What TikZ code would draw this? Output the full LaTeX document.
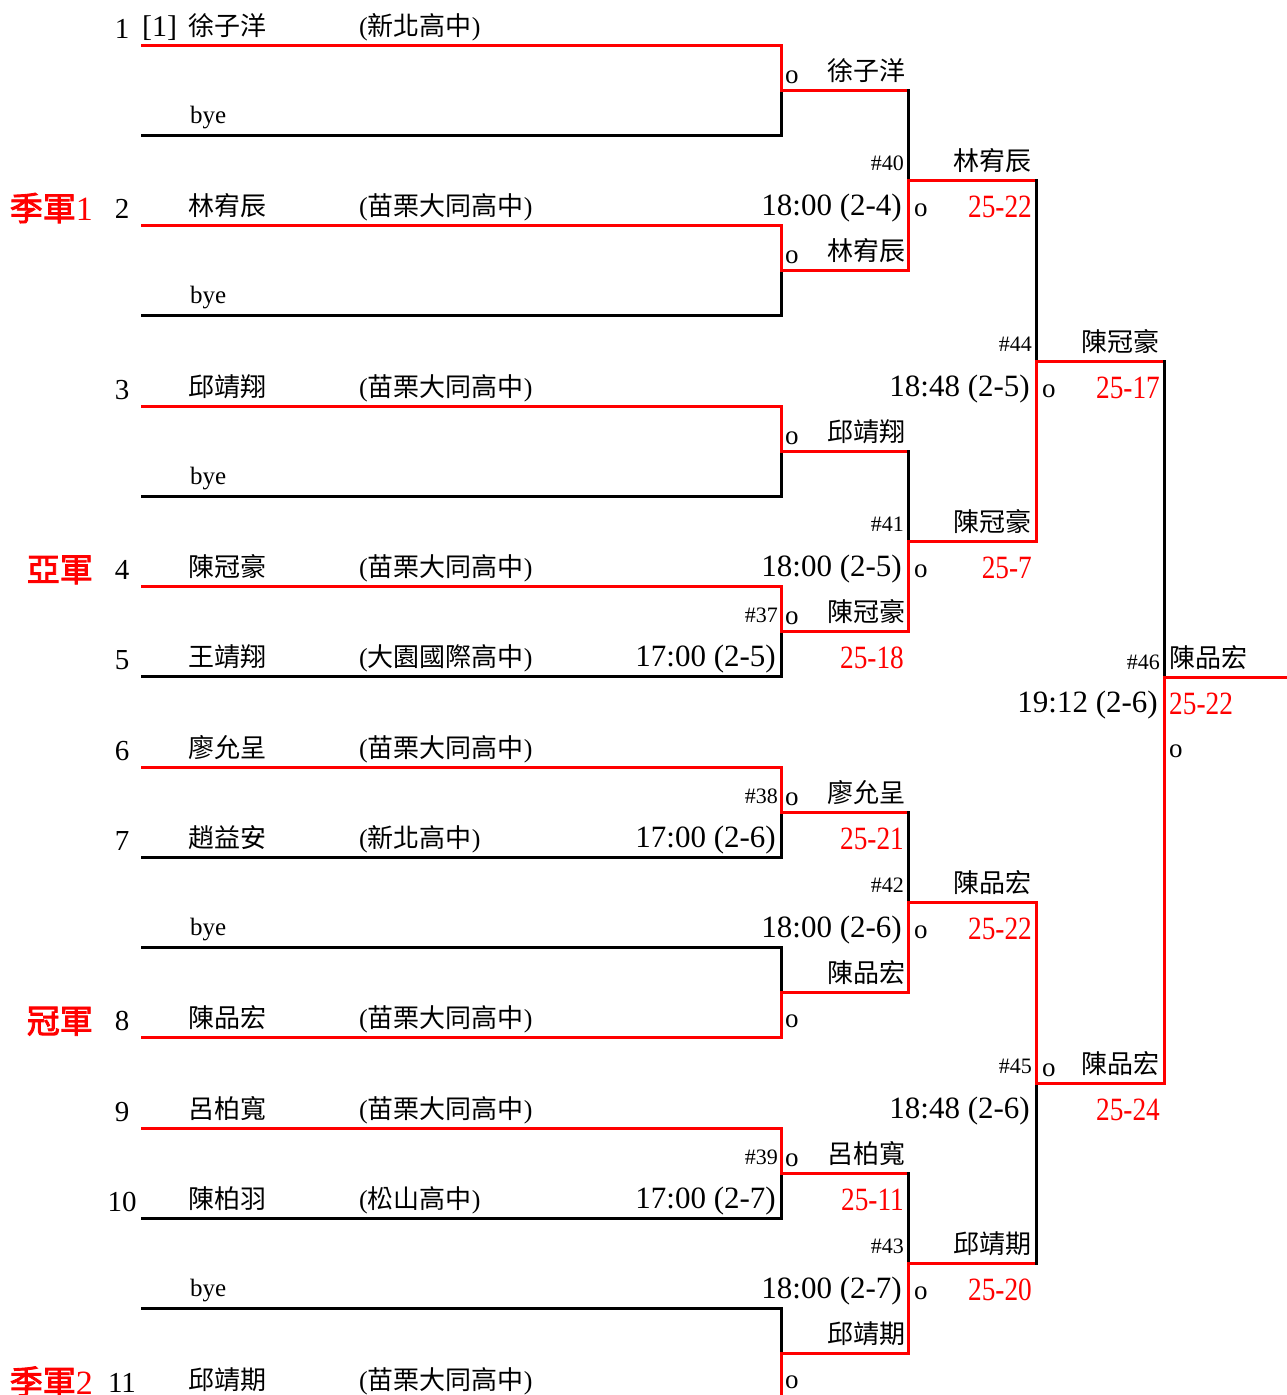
\documentclass[tikz,border=0pt]{standalone}
\usepackage{fontspec}
\setmainfont{Liberation Serif}
\newfontfamily\zhfont{Noto Sans CJK TC}
\newfontfamily\zhheavy{Noto Sans CJK TC}[FakeBold=2.5]
\newfontfamily\scorefont{Liberation Serif}[FakeStretch=0.84]
\newcommand{\zh}[1]{{\zhfont #1}}
\newcommand{\fsz}[1]{\fontsize{#1}{#1}\selectfont}
\usetikzlibrary{calc}
\definecolor{brkred}{RGB}{255,0,0}
\tikzset{
 brk line/.style={line width=3pt,line cap=rect},
 brk win/.style={brk line,brkred},
 brk lose/.style={brk line,black},
 brk seed/.style={font=\fsz{29},inner sep=0pt,anchor=base},
 brk who/.style={font=\zhfont\fsz{26},inner sep=0pt,anchor=base west},
 brk club/.style={font=\fsz{26},inner sep=0pt,anchor=base west},
 brk bye/.style={font=\fsz{25},inner sep=0pt,anchor=base west},
 brk winner/.style={font=\zhfont\fsz{26},inner sep=0pt,anchor=base east},
 brk no/.style={font=\fsz{22},inner sep=0pt,anchor=base east},
 brk time/.style={font=\fsz{31},inner sep=0pt,anchor=base east},
 brk score/.style={font=\scorefont\fsz{32.5},text=brkred,inner sep=0pt,anchor=base east},
 brk o/.style={font=\fsz{27},inner sep=0pt,anchor=base west},
 brk medal/.style={font=\fsz{34},text=brkred,inner sep=0pt,anchor=base east}
}

\begin{document}
\begin{tikzpicture}[x=1pt,y=-1pt]
 \useasboundingbox (0,0) rectangle (1287,1395);
 \clip (0,0) rectangle (1287,1395);
 % slots and match points
 \foreach \k in {1,...,16} \coordinate (p\k) at (142,{45+(\k-1)*90.27});
 \foreach \j in {1,...,8} \coordinate (m\j) at (781,{90.13+(\j-1)*180.54});
 \foreach \i in {1,...,4} \coordinate (q\i) at (908,{180.4+(\i-1)*361.08});
 \coordinate (t1) at (1036,361);
 \coordinate (t2) at (1036,1083.1);
 \coordinate (f) at (1164,677);
 \coordinate (champ) at (1287,677);

 % round 1
 \foreach \k/\col in {1/brkred,2/black,3/brkred,4/black,5/brkred,6/black,7/brkred,8/black,
   9/brkred,10/black,11/black,12/brkred,13/brkred,14/black,15/black,16/brkred}{
   \pgfmathtruncatemacro\j{(\k+1)/2}
   \draw[brk line,draw=\col] (p\k) -| (m\j);
 }
 % round 2
 \foreach \i in {1,...,4}{
   \pgfmathtruncatemacro\mup{2*\i-1}
   \pgfmathtruncatemacro\mdn{2*\i}
   \draw[brk win] (m\mup) -- (q\i |- m\mup);
   \draw[brk lose] (q\i |- m\mup) -- (q\i);
   \draw[brk win] (m\mdn) -| (q\i);
 }
 % semifinals and final
 \draw[brk win] (q1) -- (t1 |- q1);
 \draw[brk lose] (t1 |- q1) -- (t1);
 \draw[brk win] (q2) -| (t1);
 \draw[brk win] (q3) -| (t2);
 \draw[brk win] (q4) -- (t2 |- q4);
 \draw[brk lose] (t2 |- q4) -- (t2);
 \draw[brk win] (t1) -- (f |- t1);
 \draw[brk lose] (f |- t1) -- (f);
 \draw[brk win] (t2) -| (f) -- (champ);

 % entries
 \foreach \k/\s/\who/\club in {1/1/徐子洋/新北高中,3/2/林宥辰/苗栗大同高中,5/3/邱靖翔/苗栗大同高中,
   7/4/陳冠豪/苗栗大同高中,8/5/王靖翔/大園國際高中,9/6/廖允呈/苗栗大同高中,10/7/趙益安/新北高中,
   12/8/陳品宏/苗栗大同高中,13/9/呂柏寬/苗栗大同高中,14/10/陳柏羽/松山高中,16/11/邱靖期/苗栗大同高中}{
   \node[brk seed] (seed\s) at ($(p\k)+(-20,-7)$) {\s};
   \node[brk who] (who\s) at ($(p\k)+(46,-10)$) {\who};
   \node[brk club] (club\s) at ($(p\k)+(217,-10)$) {(\zh{\club})};
 }
 \node[brk club,font=\fsz{30}] (seedmark) at ($(p1)+(0,-9)$) {[1]};
 \foreach \k in {2,4,6,11,15} \node[brk bye] (bye\k) at ($(p\k)+(48,-12)$) {bye};
 \foreach \k/\medalname/\medalno in {3/季軍/1,7/亞軍/{},12/冠軍/{},16/季軍/2}
   \node[brk medal] (medal\k) at ($(p\k)+(-49,-5)$) {{\zhheavy\fsz{33}\medalname}\medalno};

 % round 1 labels
 \foreach \j/\who/\dy in {1/徐子洋/-7,2/林宥辰/-7,3/邱靖翔/-7,4/陳冠豪/-7,5/廖允呈/-7,
   6/陳品宏/35,7/呂柏寬/-7,8/邱靖期/35}{
   \node[brk winner] (win\j) at ($(m\j)+(125,-10)$) {\who};
   \node[brk o] (o\j) at ($(m\j)+(4,\dy)$) {o};
 }
 \foreach \pt/\mno/\clock/\score in {m4/37/17:00 (2-5)/25-18,m5/38/17:00 (2-6)/25-21,m7/39/17:00 (2-7)/25-11}{
   \node[brk no] (no\mno) at ($(\pt)+(-3,-9)$) {\#\mno};
   \node[brk time] (time\mno) at ($(\pt)+(-5,35)$) {\clock};
   \node[brk score] (score\mno) at ($(\pt)+(123,37)$) {\score};
 }
 % later rounds
 \foreach \pt/\mno/\who/\clock/\score/\dy in {q1/40/林宥辰/18:00 (2-4)/25-22/36,
   q2/41/陳冠豪/18:00 (2-5)/25-7/36,q3/42/陳品宏/18:00 (2-6)/25-22/36,
   q4/43/邱靖期/18:00 (2-7)/25-20/36,t1/44/陳冠豪/18:48 (2-5)/25-17/36,
   t2/45/陳品宏/18:48 (2-6)/25-24/-7}{
   \node[brk no] (no\mno) at ($(\pt)+(-4,-10)$) {\#\mno};
   \node[brk winner] (win\mno) at ($(\pt)+(124,-10)$) {\who};
   \node[brk o] (o\mno) at ($(\pt)+(6,\dy)$) {o};
   \node[brk time] (time\mno) at ($(\pt)+(-6,35)$) {\clock};
   \node[brk score] (score\mno) at ($(\pt)+(124,37)$) {\score};
 }
 % final
 \node[brk no] (no46) at ($(f)+(-4,-8)$) {\#46};
 \node[brk who] (win46) at ($(f)+(5,-10)$) {陳品宏};
 \node[brk time] (time46) at ($(f)+(-6,35)$) {19:12 (2-6)};
 \node[brk score,anchor=base west] (score46) at ($(f)+(5,37)$) {25-22};
 \node[brk o] (o46) at ($(f)+(5,80)$) {o};
\end{tikzpicture}
\end{document}
